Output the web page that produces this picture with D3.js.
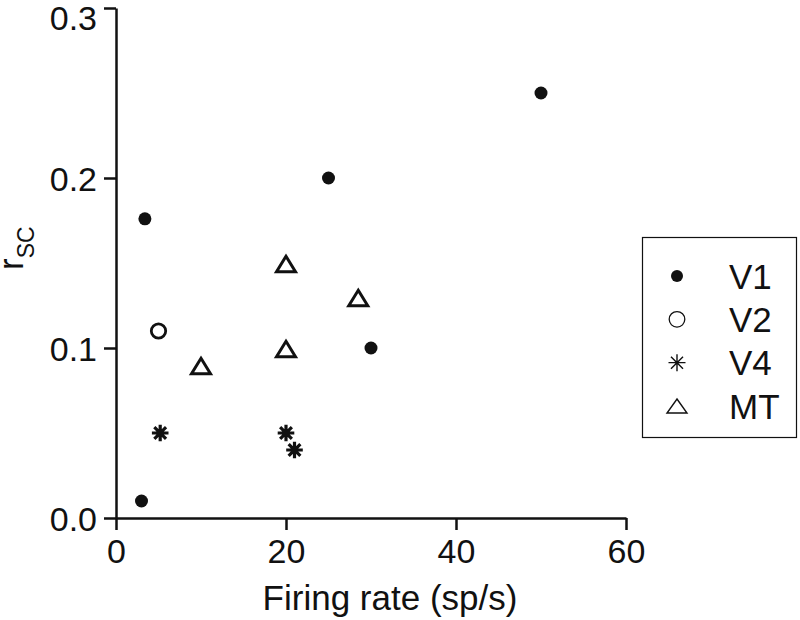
<!DOCTYPE html>
<html>
<head>
<meta charset="utf-8">
<script src="https://cdn.jsdelivr.net/npm/d3@7"></script>
<style>
  html, body { margin: 0; padding: 0; background: #fff; }
  svg { display: block; font-family: "Liberation Sans", Arial, Helvetica, sans-serif; }
</style>
</head>
<body>
<svg id="chart" width="800" height="620"></svg>
<script>
// ---- data ----
const groups = ["V1", "V2", "V4", "MT"];
const v1Rate = [3, 3.4, 25, 30, 50];
const v1Rsc  = [0.01, 0.176, 0.20, 0.10, 0.25];
const v2Rate = [5];
const v2Rsc  = [0.11];
const v4Rate = [5.2, 20, 21];
const v4Rsc  = [0.05, 0.05, 0.04];
const mtRate = [10, 20, 20, 28.5];
const mtRsc  = [0.09, 0.15, 0.10, 0.13];
const xTicks = [0, 20, 40, 60];
const yTicks = [0.0, 0.1, 0.2, 0.3];
const xLabel = "Firing rate (sp/s)";

const series = [
  { name: "V1", rate: v1Rate, rsc: v1Rsc },
  { name: "V2", rate: v2Rate, rsc: v2Rsc },
  { name: "V4", rate: v4Rate, rsc: v4Rsc },
  { name: "MT", rate: mtRate, rsc: mtRsc }
];

// ---- layout ----
const svg = d3.select("#chart");
const x = d3.scaleLinear().domain([0, 60]).range([116, 626]);
const y = d3.scaleLinear().domain([0, 0.3]).range([518, 8]);

const FONT = 34;

// axes
const xAxis = d3.axisBottom(x).tickValues(xTicks).tickSize(12).tickSizeOuter(0).tickPadding(9)
  .tickFormat(d3.format("d"));
const yAxis = d3.axisLeft(y).tickValues(yTicks).tickSize(12).tickSizeOuter(0).tickPadding(7)
  .tickFormat(d3.format(".1f"));

const gx = svg.append("g").attr("transform", `translate(0,${y(0)})`).call(xAxis);
const gy = svg.append("g").attr("transform", `translate(${x(0)},0)`).call(yAxis);

[gx, gy].forEach(g => {
  g.selectAll("path.domain").attr("stroke", "#111").attr("stroke-width", 2.5);
  g.selectAll(".tick line").attr("stroke", "#111").attr("stroke-width", 2.5);
  g.selectAll(".tick text").attr("fill", "#111").style("font-size", FONT + "px")
    .style("font-family", "'Liberation Sans', Arial, Helvetica, sans-serif");
});
// keep top label inside canvas
gy.selectAll(".tick text").attr("dy", d => d === 0.3 ? "0.62em" : "0.36em");

// axis titles
svg.append("text")
  .attr("x", 390).attr("y", 610)
  .attr("text-anchor", "middle")
  .attr("fill", "#111")
  .style("font-size", "35px")
  .text(xLabel);

const yt = svg.append("text")
  .attr("transform", "translate(23,270) rotate(-90)")
  .attr("fill", "#111")
  .style("font-size", "35px");
yt.append("tspan").text("r");
yt.append("tspan").attr("dy", 11).style("font-size", "23px").text("SC");

// ---- marker drawing ----
function asteriskPath(s) {
  const p = d3.path();
  for (let k = 0; k < 4; k++) {
    const a = k * Math.PI / 4;
    p.moveTo(-s * Math.cos(a), -s * Math.sin(a));
    p.lineTo(s * Math.cos(a), s * Math.sin(a));
  }
  return p.toString();
}
function trianglePath(w, h) {
  return `M0,${-h / 2}L${w / 2},${h / 2}L${-w / 2},${h / 2}Z`;
}

function drawMarker(g, name, big) {
  const sw = big ? 3 : 1.4;
  if (name === "V1") {
    g.append("circle").attr("r", big ? 6.5 : 6).attr("fill", "#111");
  } else if (name === "V2") {
    g.append("circle").attr("r", big ? 7.2 : 7.8).attr("fill", "none")
      .attr("stroke", "#111").attr("stroke-width", big ? 2.8 : 1.3);
  } else if (name === "V4") {
    g.append("path").attr("d", asteriskPath(big ? 8.3 : 8.5)).attr("fill", "none")
      .attr("stroke", "#111").attr("stroke-width", big ? 3.2 : 1.4);
  } else if (name === "MT") {
    g.append("path").attr("d", big ? trianglePath(19, 15.5) : trianglePath(20, 14))
      .attr("transform", big ? "translate(0,1)" : "translate(0,0)")
      .attr("fill", "none").attr("stroke", "#111").attr("stroke-width", sw)
      .attr("stroke-linejoin", "miter");
  }
}

// ---- points ----
const plot = svg.append("g");
series.forEach(s => {
  s.rate.forEach((r, i) => {
    const g = plot.append("g").attr("transform", `translate(${x(r)},${y(s.rsc[i])})`);
    drawMarker(g, s.name, true);
  });
});

// ---- legend ----
const legend = svg.append("g");
legend.append("rect")
  .attr("x", 642.5).attr("y", 237.5).attr("width", 154).attr("height", 200)
  .attr("fill", "#fff").attr("stroke", "#111").attr("stroke-width", 1.2);

const ly = d3.scalePoint().domain(groups).range([276, 406]);
groups.forEach(name => {
  const g = legend.append("g").attr("transform", `translate(677,${ly(name)})`);
  drawMarker(g, name, false);
  legend.append("text")
    .attr("x", 729).attr("y", ly(name) + 12.5)
    .attr("fill", "#111")
    .style("font-size", "35px")
    .text(name);
});
</script>
</body>
</html>
